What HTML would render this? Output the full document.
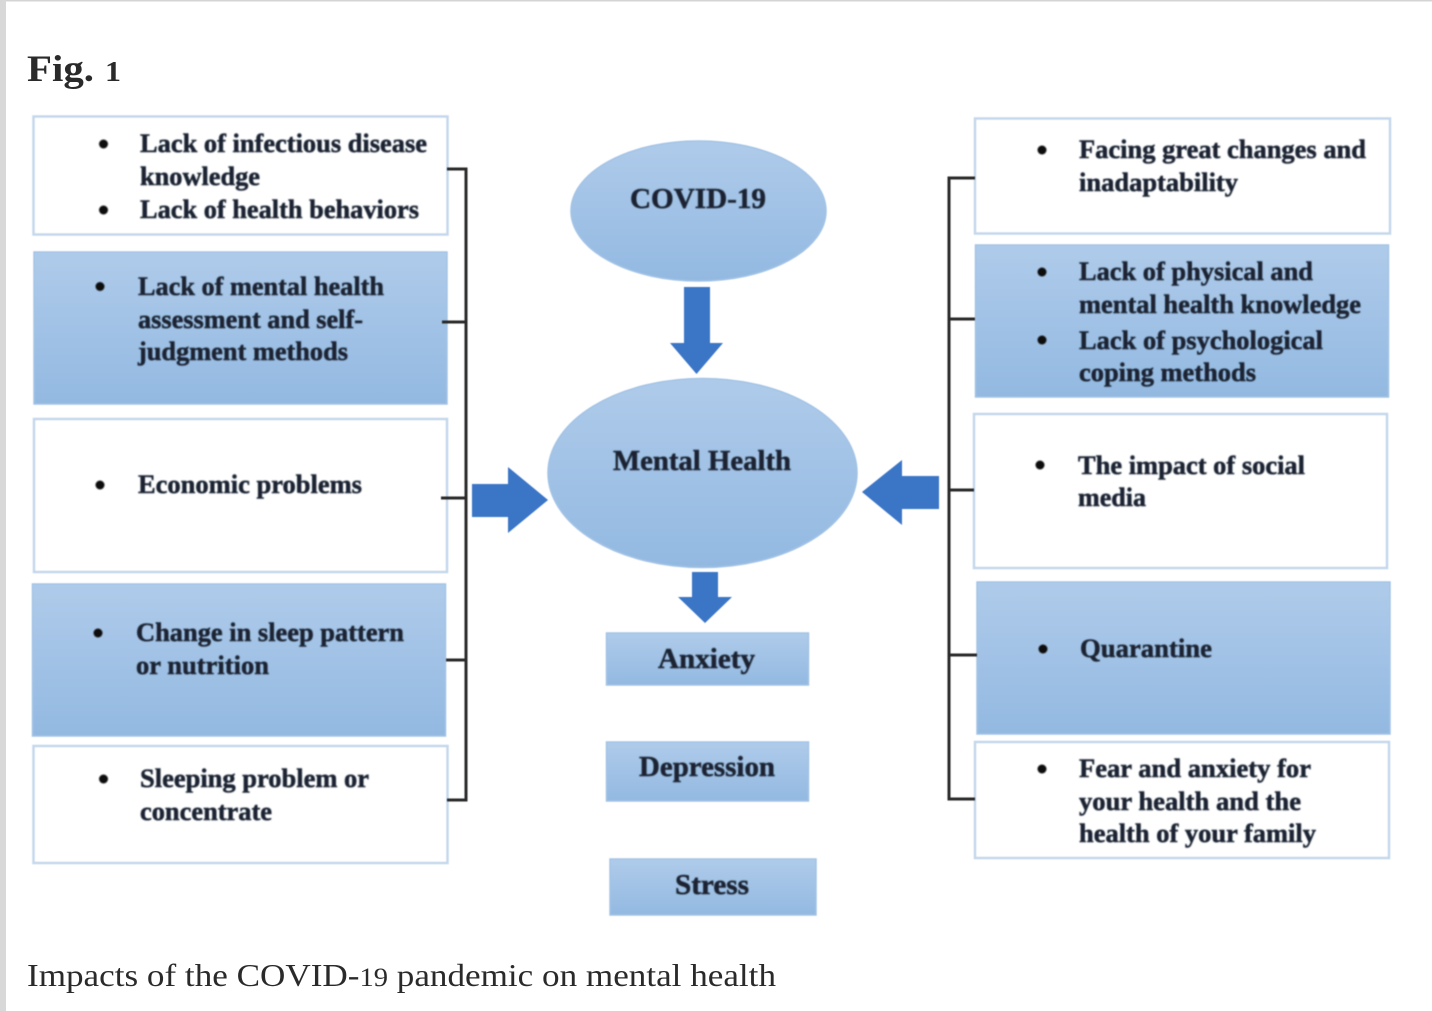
<!DOCTYPE html>
<html><head><meta charset="utf-8"><style>
html,body{margin:0;padding:0;background:#fff}
svg{display:block}
text{font-family:"Liberation Serif",serif}
</style></head><body>
<svg width="1432" height="1011" viewBox="0 0 1432 1011" xmlns="http://www.w3.org/2000/svg">
<defs>
<linearGradient id="g" x1="0" y1="0" x2="0" y2="1"><stop offset="0" stop-color="#afcbea"/><stop offset="1" stop-color="#93b9e1"/></linearGradient>
<filter id="b" x="-5%" y="-5%" width="110%" height="110%"><feGaussianBlur stdDeviation="0.7"/></filter>
<filter id="s" x="-5%" y="-5%" width="110%" height="110%"><feGaussianBlur stdDeviation="0.5"/></filter>
</defs>
<rect width="1432" height="1011" fill="#fff"/>
<rect x="0" y="0" width="1432" height="1.5" fill="#d4d4d4"/>
<rect x="0" y="0" width="6" height="1011" fill="#d8d8d8"/>
<text x="27" y="81" font-size="37" font-weight="bold" fill="#2a2a2a" textLength="67" lengthAdjust="spacingAndGlyphs">Fig.</text>
<text x="105" y="81" font-size="29" font-weight="bold" fill="#2a2a2a" textLength="16" lengthAdjust="spacingAndGlyphs">1</text>
<text x="27" y="986" font-size="32" fill="#2a2a2a" textLength="749" lengthAdjust="spacingAndGlyphs">Impacts of the COVID-<tspan font-size="26">19</tspan> pandemic on mental health</text>

<g filter="url(#s)">
<g stroke="#c3d7ec" stroke-width="2.500" fill="#fff">
<rect x="33.500" y="116.500" width="414" height="118"/>
<rect x="34" y="419" width="413" height="153"/>
<rect x="33.500" y="746" width="414" height="117"/>
<rect x="975" y="118.500" width="415" height="115"/>
<rect x="974" y="414" width="413" height="154"/>
<rect x="975" y="742" width="414" height="116"/>
</g>
<g stroke="#a3c3e5" stroke-width="1.500" fill="url(#g)">
<rect x="34" y="252" width="413" height="152"/>
<rect x="32.500" y="584" width="413" height="152"/>
<rect x="975.500" y="245" width="413" height="152"/>
<rect x="977" y="582" width="413" height="152"/>
<rect x="606.500" y="633" width="202" height="52"/>
<rect x="606.500" y="742" width="202" height="59"/>
<rect x="610" y="859" width="206" height="56"/>
<ellipse cx="698.500" cy="211" rx="127.500" ry="70"/>
<ellipse cx="702.500" cy="473" rx="154.500" ry="94.500"/>
</g>
<g fill="#3b74c6">
<path d="M684 287H710V343H723L696.500 374L670 343H684Z"/>
<path d="M692 572H718V597H732L705 623L678 597H692Z"/>
<path d="M472 484H508V467L548 500L508 533V517H472Z"/>
<path d="M939 476H902V460L862 492L902 525V509H939Z"/>
</g>
</g>

<g stroke="#2b2b2b" stroke-width="3" fill="none" filter="url(#s)">
<path d="M447 169H466V800H447"/>
<path d="M442 322H466M441 498H466M446 660H466"/>
<path d="M975 178H949V799H975"/>
<path d="M949 319H975M949 490H974M949 655H977"/>
</g>

<g fill="#111" filter="url(#b)">
<circle cx="103.500" cy="144" r="4.500"/><circle cx="103.500" cy="210" r="4.500"/>
<circle cx="100" cy="286.500" r="4.500"/><circle cx="100" cy="485" r="4.500"/>
<circle cx="98" cy="633" r="4.500"/><circle cx="103.500" cy="779" r="4.500"/>
<circle cx="1042" cy="150" r="4.500"/><circle cx="1042" cy="272" r="4.500"/>
<circle cx="1042" cy="340" r="4.500"/><circle cx="1040" cy="465" r="4.500"/>
<circle cx="1043" cy="649" r="4.500"/><circle cx="1042" cy="769" r="4.500"/>
</g>

<g filter="url(#b)" font-weight="bold" font-size="26" fill="#1a2433" stroke="#1a2433" stroke-width="0.500">
<text x="140" y="152" textLength="287" lengthAdjust="spacingAndGlyphs">Lack of infectious disease</text>
<text x="140" y="185" textLength="120" lengthAdjust="spacingAndGlyphs">knowledge</text>
<text x="140" y="218" textLength="279" lengthAdjust="spacingAndGlyphs">Lack of health behaviors</text>
<text x="138" y="295" textLength="246" lengthAdjust="spacingAndGlyphs">Lack of mental health</text>
<text x="138" y="328" textLength="225" lengthAdjust="spacingAndGlyphs">assessment and self-</text>
<text x="138" y="360" textLength="210" lengthAdjust="spacingAndGlyphs">judgment methods</text>
<text x="138" y="493" textLength="224" lengthAdjust="spacingAndGlyphs">Economic problems</text>
<text x="136" y="641" textLength="268" lengthAdjust="spacingAndGlyphs">Change in sleep pattern</text>
<text x="136" y="674" textLength="133" lengthAdjust="spacingAndGlyphs">or nutrition</text>
<text x="140" y="787" textLength="229" lengthAdjust="spacingAndGlyphs">Sleeping problem or</text>
<text x="140" y="820" textLength="132" lengthAdjust="spacingAndGlyphs">concentrate</text>

<text x="1079" y="158" textLength="287" lengthAdjust="spacingAndGlyphs">Facing great changes and</text>
<text x="1079" y="191" textLength="159" lengthAdjust="spacingAndGlyphs">inadaptability</text>
<text x="1079" y="280" textLength="234" lengthAdjust="spacingAndGlyphs">Lack of physical and</text>
<text x="1079" y="313" textLength="282" lengthAdjust="spacingAndGlyphs">mental health knowledge</text>
<text x="1079" y="349" textLength="244" lengthAdjust="spacingAndGlyphs">Lack of psychological</text>
<text x="1079" y="381" textLength="177" lengthAdjust="spacingAndGlyphs">coping methods</text>
<text x="1078" y="474" textLength="227" lengthAdjust="spacingAndGlyphs">The impact of social</text>
<text x="1078" y="506" textLength="68" lengthAdjust="spacingAndGlyphs">media</text>
<text x="1080" y="657" textLength="132" lengthAdjust="spacingAndGlyphs">Quarantine</text>
<text x="1079" y="777" textLength="232" lengthAdjust="spacingAndGlyphs">Fear and anxiety for</text>
<text x="1079" y="810" textLength="222" lengthAdjust="spacingAndGlyphs">your health and the</text>
<text x="1079" y="842" textLength="237" lengthAdjust="spacingAndGlyphs">health of your family</text>

<text x="630" y="208" font-size="28" textLength="136" lengthAdjust="spacingAndGlyphs">COVID-19</text>
<text x="613" y="470" font-size="28" textLength="178" lengthAdjust="spacingAndGlyphs">Mental Health</text>
<text x="658" y="668" font-size="28" textLength="97" lengthAdjust="spacingAndGlyphs">Anxiety</text>
<text x="639" y="776" font-size="28" textLength="136" lengthAdjust="spacingAndGlyphs">Depression</text>
<text x="675" y="894" font-size="28" textLength="74" lengthAdjust="spacingAndGlyphs">Stress</text>
</g>
</svg>
</body></html>
